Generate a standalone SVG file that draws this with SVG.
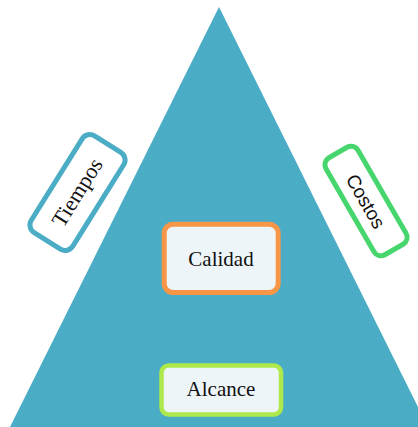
<svg xmlns="http://www.w3.org/2000/svg" width="418" height="427" viewBox="0 0 418 427">
<style>
.serif{font-family:"Liberation Serif","DejaVu Serif",serif;font-size:21px;fill:#111;text-anchor:middle}
.sans{font-family:"Liberation Sans","DejaVu Sans",sans-serif;font-size:19px;fill:#111;text-anchor:middle}
.box{stroke-width:5}
</style>
<rect width="418" height="427" fill="#ffffff"/>
<g id="triangle">
<polygon points="219,7 7.5,432 430.5,432" fill="#4BACC6"/>
</g>
<g id="connectors"></g>
<g id="tiempos" transform="translate(77.5,192.5) rotate(-58)">
<rect class="box" x="-57" y="-24.5" width="114" height="49" rx="9" fill="#ffffff" stroke="#4BACC6"/>
<text class="serif" x="0" y="7" style="font-size:22px">Tiempos</text>
</g>
<g id="costos" transform="translate(366,201) rotate(60)">
<rect class="box" x="-56" y="-18.5" width="112" height="37" rx="8" fill="#ffffff" stroke="#47D66E"/>
<text class="sans" x="0" y="7">Costos</text>
</g>
<g id="calidad">
<rect class="box" x="164.2" y="224.2" width="114" height="68.3" rx="9" fill="#EEF5F8" stroke="#F79646"/>
<text class="serif" x="221" y="265.5">Calidad</text>
</g>
<g id="alcance">
<rect x="161.5" y="365.5" width="119.5" height="49" rx="7" fill="#EEF5F8" stroke="#AEE84A" stroke-width="4.5"/>
<text class="serif" x="221" y="396">Alcance</text>
</g>
</svg>
